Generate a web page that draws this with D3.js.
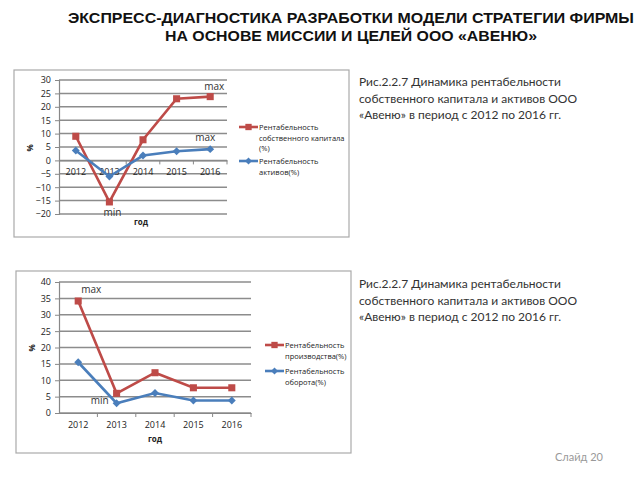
<!DOCTYPE html>
<html>
<head>
<meta charset="utf-8">
<script src="https://cdn.jsdelivr.net/npm/d3@7"></script>
<style>
  body { margin: 0; background: #fff; }
  svg { display: block; }
</style>
</head>
<body>
<div id="slide"></div>
<script>
const years = ["2012", "2013", "2014", "2015", "2016"];

// chart 1
const equityReturn = [9, -15.5, 7.7, 23, 23.8];
const assetsReturn = [3.7, -6, 1.8, 3.4, 4.2];
const ticks1 = [30, 25, 20, 15, 10, 5, 0, -5, -10, -15, -20];

// chart 2
const productionReturn = [34.2, 6, 12.3, 7.7, 7.7];
const turnoverReturn = [15.5, 3, 6.1, 3.8, 3.8];
const ticks2 = [40, 35, 30, 25, 20, 15, 10, 5, 0];

const redColor = "#be4b48", blueColor = "#4a7ebb";
const chartFont = "'Open Sans', sans-serif";

const svg = d3.select("#slide")
  .append("svg")
    .attr("width", 640)
    .attr("height", 480);

// title
const title = svg.append("g")
  .attr("font-family", "'Liberation Sans', Arial, sans-serif")
  .attr("font-weight", "bold")
  .attr("font-size", "14px")
  .attr("fill", "#111")
  .attr("text-anchor", "middle");
title.append("text")
  .attr("x", 351).attr("y", 23)
  .attr("textLength", 566).attr("lengthAdjust", "spacingAndGlyphs")
  .text("ЭКСПРЕСС-ДИАГНОСТИКА РАЗРАБОТКИ МОДЕЛИ СТРАТЕГИИ ФИРМЫ");
title.append("text")
  .attr("x", 351).attr("y", 41)
  .attr("textLength", 372).attr("lengthAdjust", "spacingAndGlyphs")
  .text("НА ОСНОВЕ МИССИИ И ЦЕЛЕЙ ООО «АВЕНЮ»");

function caption(y, lines) {
  svg.append("g")
    .attr("font-family", "Lato, 'Open Sans', sans-serif")
    .attr("font-size", "12px")
    .attr("fill", "#333")
    .selectAll("text")
    .data(lines)
    .join("text")
      .attr("x", 359)
      .attr("y", (d, i) => y + i * 16.5)
      .text(d => d);
}
caption(86, ["Рис.2.2.7 Динамика рентабельности", "собственного капитала и активов ООО", "«Авеню»  в период с 2012 по 2016 гг."]);
caption(288, ["Рис.2.2.7  Динамика рентабельности", "собственного капитала и активов ООО", "«Авеню»   в период с 2012 по 2016 гг."]);

svg.append("text")
  .attr("x", 555).attr("y", 461)
  .attr("font-family", "Lato, sans-serif")
  .attr("font-size", "11px")
  .attr("fill", "#999")
  .text("Слайд 20");

function drawChart(cfg) {
  // frame
  svg.append("rect")
    .attr("x", cfg.box[0]).attr("y", cfg.box[1])
    .attr("width", cfg.box[2]).attr("height", cfg.box[3])
    .attr("fill", "#fff")
    .attr("stroke", "#aaa")
    .attr("stroke-width", 1.2);

  const g = svg.append("g").attr("font-family", chartFont);

  const x = d3.scaleBand().domain(years).range([cfg.left, cfg.right]);
  const y = d3.scaleLinear().domain(cfg.yDomain).range([cfg.bottom, cfg.top]);
  const cx = d => x(d) + x.bandwidth() / 2;

  // gridlines
  g.append("g")
    .selectAll("line")
    .data(cfg.ticks)
    .join("line")
      .attr("x1", cfg.left).attr("x2", cfg.right)
      .attr("y1", d => y(d)).attr("y2", d => y(d))
      .attr("stroke", "#8c8c8c")
      .attr("stroke-width", 1.5);

  // y axis
  const yAxis = g.append("g")
    .attr("transform", `translate(${cfg.left},0)`)
    .call(d3.axisLeft(y).tickValues(cfg.ticks).tickSize(4).tickPadding(4));
  yAxis.select(".domain").attr("stroke", "#888").attr("stroke-width", 1.2);
  yAxis.selectAll(".tick line").attr("stroke", "#888");
  yAxis.selectAll("text").attr("font-size", "9px").attr("fill", "#222").attr("font-family", chartFont);

  // x axis at zero
  const xAxis = g.append("g")
    .attr("transform", `translate(0,${y(0)})`)
    .call(d3.axisBottom(x).tickSize(0).tickPadding(cfg.xPad));
  xAxis.select(".domain").attr("stroke", "#888").attr("stroke-width", 1.2);
  xAxis.selectAll("text").attr("font-size", "9px").attr("fill", "#222").attr("font-family", chartFont);
  // category separators
  g.append("g")
    .selectAll("line")
    .data(years)
    .join("line")
      .attr("x1", d => x(d) + x.bandwidth()).attr("x2", d => x(d) + x.bandwidth())
      .attr("y1", y(0)).attr("y2", y(0) + 4)
      .attr("stroke", "#888");

  // axis titles
  g.append("text")
    .attr("x", cfg.xTitle[0]).attr("y", cfg.xTitle[1])
    .attr("text-anchor", "middle")
    .attr("font-size", "8px").attr("font-weight", "bold").attr("fill", "#222")
    .text("год");
  g.append("text")
    .attr("transform", `translate(${cfg.yTitle[0]},${cfg.yTitle[1]}) rotate(-90)`)
    .attr("text-anchor", "middle")
    .attr("font-size", "8px").attr("font-weight", "bold").attr("fill", "#222")
    .text("%");

  const line = d3.line()
    .x((d, i) => cx(years[i]))
    .y(d => y(d));

  cfg.series.forEach(function(s) {
    g.append("path")
      .datum(s.values)
      .attr("fill", "none")
      .attr("stroke", s.color)
      .attr("stroke-width", 2.6)
      .attr("d", line);
    const sym = d3.symbol().type(s.shape === "square" ? d3.symbolSquare : d3.symbolDiamond2)
      .size(s.shape === "square" ? 50 : 40);
    g.append("g")
      .selectAll("path")
      .data(s.values)
      .join("path")
        .attr("transform", (d, i) => `translate(${cx(years[i])},${y(d)})`)
        .attr("d", sym)
        .attr("fill", s.color);
  });

  // annotations
  g.append("g")
    .selectAll("text")
    .data(cfg.notes)
    .join("text")
      .attr("x", d => cx(d.year) + d.dx)
      .attr("y", d => y(d.value) + d.dy)
      .attr("text-anchor", "middle")
      .attr("font-size", "10px")
      .attr("fill", "#333")
      .text(d => d.text);

  // legend
  const legend = g.append("g")
    .attr("transform", `translate(${cfg.legend[0]},${cfg.legend[1]})`);
  cfg.series.forEach(function(s, k) {
    const row = legend.append("g").attr("transform", `translate(0,${k * cfg.legendGap})`);
    row.append("line")
      .attr("x1", 0).attr("x2", 19)
      .attr("stroke", s.color).attr("stroke-width", 2.6);
    row.append("path")
      .attr("transform", "translate(9.5,0)")
      .attr("d", d3.symbol().type(s.shape === "square" ? d3.symbolSquare : d3.symbolDiamond2)
        .size(s.shape === "square" ? 40 : 32))
      .attr("fill", s.color);
    row.selectAll("text")
      .data(s.label)
      .join("text")
        .attr("x", 20)
        .attr("y", (d, i) => 3 + i * 10.5)
        .attr("font-size", "7.5px")
        .attr("fill", "#222")
        .text(d => d);
  });
}

drawChart({
  box: [14, 70, 335, 167],
  left: 59, right: 227, top: 80, bottom: 214,
  yDomain: [-20, 30], ticks: ticks1, xPad: 8,
  xTitle: [141, 225], yTitle: [33, 148],
  series: [
    { values: equityReturn, color: redColor, shape: "square",
      label: ["Рентабельность", "собственного капитала", "(%)"] },
    { values: assetsReturn, color: blueColor, shape: "diamond",
      label: ["Рентабельность", "активов(%)"] }
  ],
  notes: [
    { year: "2016", value: 23.8, text: "max", dx: 4, dy: -7 },
    { year: "2016", value: 4.2, text: "max", dx: -5, dy: -8 },
    { year: "2013", value: -15.5, text: "min", dx: 3, dy: 14 }
  ],
  legend: [239, 127], legendGap: 34
});

drawChart({
  box: [16, 271, 335, 182],
  left: 59, right: 251, top: 282, bottom: 413,
  yDomain: [0, 40], ticks: ticks2, xPad: 9,
  xTitle: [155, 442], yTitle: [35, 348],
  series: [
    { values: productionReturn, color: redColor, shape: "square",
      label: ["Рентабельность", "производства(%)"] },
    { values: turnoverReturn, color: blueColor, shape: "diamond",
      label: ["Рентабельность", "оборота(%)"] }
  ],
  notes: [
    { year: "2012", value: 34.2, text: "max", dx: 13, dy: -8 },
    { year: "2013", value: 3, text: "min", dx: -17, dy: 1 }
  ],
  legend: [265, 345], legendGap: 26
});
</script>
</body>
</html>
